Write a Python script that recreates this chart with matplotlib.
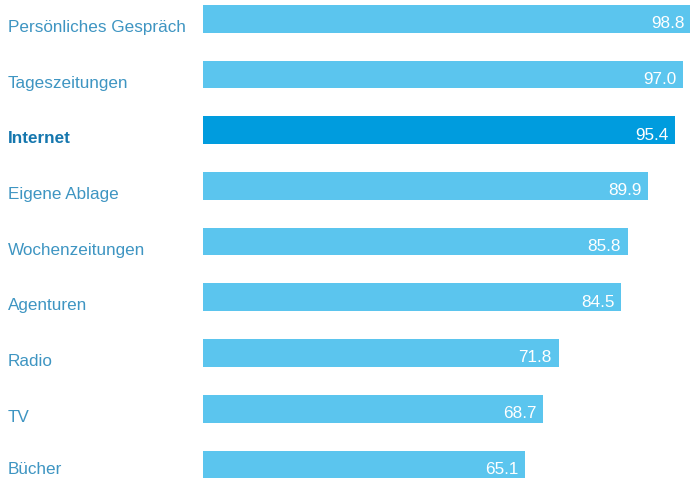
import matplotlib
matplotlib.use("Agg")
import matplotlib.pyplot as plt
import matplotlib.transforms as mtransforms

categories = ["Persönliches Gespräch", "Tageszeitungen", "Internet", "Eigene Ablage",
              "Wochenzeitungen", "Agenturen", "Radio", "TV", "Bücher"]
values = [98.8, 97.0, 95.4, 89.9, 85.8, 84.5, 71.8, 68.7, 65.1]
highlight = "Internet"

plt.rcParams['font.family'] = ['Liberation Sans', 'DejaVu Sans']

fig = plt.figure(figsize=(6.9, 4.79), dpi=100)
left_px = 203
ax = fig.add_axes([left_px / 690, 0, 1 - left_px / 690, 1])

light = "#5BC5EE"
dark = "#009CDE"
lab_col = "#3E95C2"
lab_dark = "#1577AE"

ypos = list(range(len(categories)))
colors = [dark if c == highlight else light for c in categories]
ax.barh(ypos, values, height=0.497, color=colors, edgecolor="none")

ax.set_xlim(0, (690 - left_px) / 4.952)
ax.set_ylim((479 - 18.8) / 55.7, -18.8 / 55.7)
ax.axis("off")

trans = mtransforms.blended_transform_factory(fig.transFigure, ax.transData)
n = len(categories)
for y, c, v in zip(ypos, categories, values):
    hl = c == highlight
    dy = -9.5 if y < n - 1 else -7.2
    ax.annotate(c, xy=(8 / 690, y), xycoords=trans, xytext=(0, dy), textcoords="offset points",
                ha="left", va="baseline", fontsize=12.3, annotation_clip=False,
                color=lab_dark if hl else lab_col, fontweight="bold" if hl else "normal")
    ax.annotate(f"{v:.1f}", xy=(min(v, ax.get_xlim()[1] + 0.4), y), xytext=(-5, -6.8),
                textcoords="offset points", annotation_clip=False,
                ha="right", va="baseline", fontsize=12.3, color="white")

fig.savefig("out.png", dpi=100)
